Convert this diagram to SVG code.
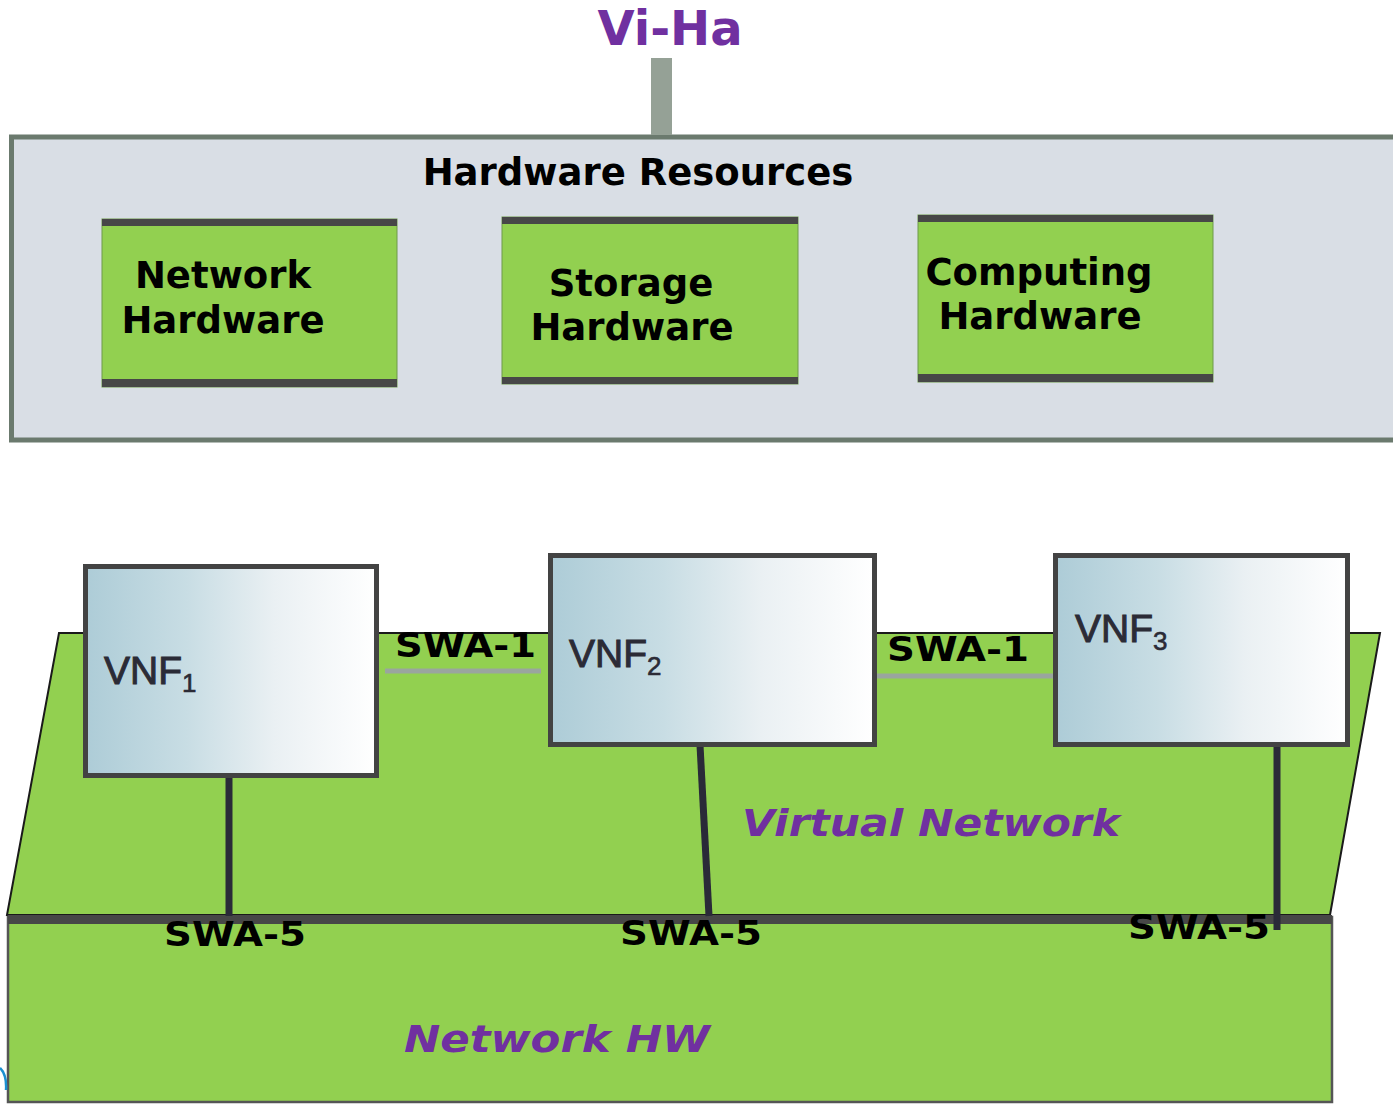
<svg xmlns="http://www.w3.org/2000/svg" width="1393" height="1104" viewBox="0 0 1393 1104">
<style>
.hw{font-family:"DejaVu Sans",Verdana,sans-serif;font-weight:bold;font-size:37px;fill:#000}
.swa{font-family:"DejaVu Sans",Verdana,sans-serif;font-weight:bold;font-size:34px;fill:#000}
.purp{font-family:"DejaVu Sans",Verdana,sans-serif;font-weight:bold;font-style:italic;fill:#7030A0}
.vnft{font-family:"Liberation Sans",Arial,sans-serif;font-size:39px;fill:#2b2b36;stroke:#2b2b36;stroke-width:1}
.green{fill:#92D050}
.band{fill:#474747}
.vnf{fill:url(#vg);stroke:#434343;stroke-width:5}
.link1{stroke:#9aa59e;stroke-width:5;fill:none}
.link5{stroke:#2a2a38;stroke-width:7;fill:none}
</style>
<defs>
<linearGradient id="vg" x1="0" y1="0" x2="1" y2="0">
<stop offset="0" stop-color="#adccd7"/>
<stop offset="0.35" stop-color="#c8dde4"/>
<stop offset="0.65" stop-color="#eaf0f3"/>
<stop offset="1" stop-color="#ffffff"/>
</linearGradient>
</defs>
<rect width="1393" height="1104" fill="#fff"/>

<text x="670" y="45" text-anchor="middle" class="purp" style="font-style:normal;font-size:48px">Vi-Ha</text>

<g id="hardware-resources">
<rect x="11.5" y="137" width="1400" height="303" fill="#D9DEE5" stroke="#6b7a6e" stroke-width="5"/>
<text x="638" y="185" text-anchor="middle" class="hw">Hardware Resources</text>
</g>

<g id="network-hardware">
<rect x="102" y="219" width="295" height="168" class="green" stroke="#6f9a4a" stroke-width="1"/>
<rect x="102" y="219" width="295" height="7" class="band"/>
<rect x="102" y="379" width="295" height="8" class="band"/>
<text x="223" y="288" text-anchor="middle" class="hw">Network</text>
<text x="223" y="333" text-anchor="middle" class="hw">Hardware</text>
</g>

<g id="storage-hardware">
<rect x="502" y="217" width="296" height="167" class="green" stroke="#6f9a4a" stroke-width="1"/>
<rect x="502" y="217" width="296" height="7" class="band"/>
<rect x="502" y="377" width="296" height="7" class="band"/>
<text x="631" y="296" text-anchor="middle" class="hw">Storage</text>
<text x="632" y="340" text-anchor="middle" class="hw">Hardware</text>
</g>

<g id="computing-hardware">
<rect x="918" y="215" width="295" height="167" class="green" stroke="#6f9a4a" stroke-width="1"/>
<rect x="918" y="215" width="295" height="7" class="band"/>
<rect x="918" y="374" width="295" height="8" class="band"/>
<text x="1039" y="285" text-anchor="middle" class="hw">Computing</text>
<text x="1040" y="329" text-anchor="middle" class="hw">Hardware</text>
</g>

<g id="virtual-network">
<polygon points="59,633 1380,633 1330,915 7,915" class="green" stroke="#1a1a1a" stroke-width="2"/>
<text x="742" y="836" class="purp" font-size="38" textLength="378" lengthAdjust="spacingAndGlyphs">Virtual Network</text>
</g>

<g id="network-hw">
<rect x="8" y="917" width="1324" height="185" class="green" stroke="#555" stroke-width="2.5"/>
<rect x="8" y="915" width="1324" height="9" class="band"/>
<text x="404" y="1052" class="purp" font-size="38" textLength="306" lengthAdjust="spacingAndGlyphs">Network HW</text>
</g>

<path d="M0,1068 Q7,1075 6,1090" fill="none" stroke="#1a8fd0" stroke-width="2.5"/>

<g id="connectors">
<line x1="661.5" y1="58" x2="661.5" y2="135" stroke="#95a196" stroke-width="21"/>
<line x1="385" y1="671" x2="541" y2="671" class="link1"/>
<line x1="876" y1="676" x2="1055" y2="676" class="link1"/>
<line x1="229" y1="776" x2="229" y2="916" class="link5"/>
<line x1="700" y1="745" x2="709" y2="916" class="link5"/>
<line x1="1277" y1="745" x2="1277" y2="930" class="link5"/>
<text x="395" y="657" class="swa" textLength="141" lengthAdjust="spacingAndGlyphs">SWA-1</text>
<text x="887" y="661" class="swa" textLength="142" lengthAdjust="spacingAndGlyphs">SWA-1</text>
<text x="164" y="946" class="swa" textLength="142" lengthAdjust="spacingAndGlyphs">SWA-5</text>
<text x="620" y="945" class="swa" textLength="142" lengthAdjust="spacingAndGlyphs">SWA-5</text>
<text x="1128" y="939" class="swa" textLength="142" lengthAdjust="spacingAndGlyphs">SWA-5</text>
</g>

<g id="vnf1">
<rect x="85.5" y="566.5" width="291" height="209" class="vnf"/>
<text x="104" y="684" class="vnft">VNF<tspan dy="8" font-size="26" stroke-width="0.6">1</tspan></text>
</g>
<g id="vnf2">
<rect x="550.5" y="555.5" width="324" height="189" class="vnf"/>
<text x="569" y="667" class="vnft">VNF<tspan dy="8" font-size="26" stroke-width="0.6">2</tspan></text>
</g>
<g id="vnf3">
<rect x="1055.5" y="555.5" width="292" height="189" class="vnf"/>
<text x="1075" y="642" class="vnft">VNF<tspan dy="8" font-size="26" stroke-width="0.6">3</tspan></text>
</g>
</svg>
